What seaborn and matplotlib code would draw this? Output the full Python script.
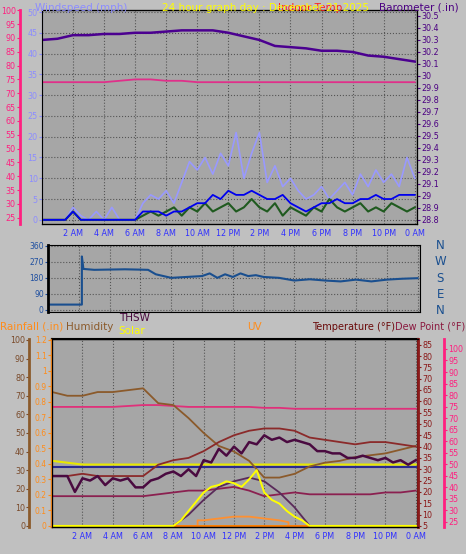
import numpy as np
import pandas as pd
import matplotlib
matplotlib.use('Agg')
import matplotlib.pyplot as plt
import seaborn as sns

# ---- top panel data ----
hours = list(range(25))
barometer = [30.30, 30.31, 30.34, 30.34, 30.35, 30.35, 30.36, 30.36, 30.37, 30.38, 30.38, 30.38, 30.36,
             30.33, 30.30, 30.25, 30.24, 30.23, 30.21, 30.21, 30.20, 30.17, 30.16, 30.14, 30.12]
top_pink = [74, 74, 74, 74, 74, 74.5, 75, 75, 74.5, 74.5, 74, 74, 74, 74, 74, 74, 74, 74, 74, 74, 74, 74, 74, 74, 74]

half = [i / 2 for i in range(49)]
wind_gust = [0, 0, 0, 0, 3, 1, 0, 2, 0, 3, 0, 0, 0, 4, 6, 5, 7, 4, 9, 14, 12, 15, 11, 16, 13, 21, 10, 16,
             21, 9, 13, 8, 10, 7, 5, 6, 8, 5, 7, 9, 6, 11, 8, 12, 9, 11, 8, 15, 10]
wind_avg = [0, 0, 0, 0, 2, 0, 0, 0, 0, 0, 0, 0, 0, 2, 2, 2, 1, 2, 2, 3, 4, 4, 6, 5, 7, 6, 6, 7,
            6, 5, 5, 6, 4, 3, 2, 3, 4, 4, 5, 4, 4, 5, 5, 6, 5, 5, 6, 6, 6]
wind_speed = [0, 0, 0, 0, 2, 0, 0, 0, 0, 0, 0, 0, 0, 1, 2, 1, 2, 3, 1, 3, 2, 4, 2, 3, 4, 2, 3, 5,
              3, 2, 4, 1, 3, 2, 1, 3, 2, 5, 3, 2, 3, 4, 2, 3, 2, 4, 3, 2, 3]

# ---- wind direction ----
dir_t = [0, 2.2, 2.2, 2.3, 3, 5, 6.5, 7, 7.5, 8, 9, 10, 10.5, 11, 11.5, 12, 12.5, 13, 13.5, 14, 15, 16,
         17, 18, 19, 20, 21, 22, 23, 24]
dir_v = [30, 30, 300, 230, 225, 228, 225, 200, 190, 180, 185, 190, 205, 180, 200, 185, 205, 190, 195, 185,
         180, 165, 172, 165, 160, 170, 160, 170, 175, 178]

# ---- bottom panel ----
humidity = [72, 70, 70, 72, 72, 73, 74, 66, 65, 58, 50, 43, 40, 35, 26, 26, 28, 32, 34, 35, 37, 38, 39, 41, 43]
dew_pink = [64, 64, 64, 64, 64, 64.5, 65, 65, 64.5, 64, 64, 64, 64, 64, 63.5, 63.5, 63, 63, 63, 63, 63, 63, 63, 63, 63]
temperature = [27, 27, 28, 27, 27, 27, 27, 32, 34, 35, 38, 42, 45, 47, 48, 48, 47, 44, 43, 42, 41, 42, 42, 41, 40]
thsw = [27, 27, 27, 20, 26, 25, 27, 23, 26, 25, 26, 22, 22, 25, 26, 28, 29, 27, 30, 27, 34, 33, 39, 36,
        40, 37, 42, 41, 45, 43, 44, 42, 43, 42, 41, 38, 38, 37, 37, 35, 35, 36, 35, 34, 35, 33, 34, 32, 34]
low_mag = [16, 16, 16, 16, 16, 16, 16, 17, 18, 19, 19, 20, 21, 19, 16, 17, 18, 17, 17, 17, 17, 17, 18, 18, 19]
solar_t = [0, 8, 8.5, 9, 9.5, 10, 10.5, 11, 11.5, 12, 12.5, 13, 13.5, 14, 14.5, 15, 15.5, 16, 16.5, 17, 24]
solar_v = [0, 0, 3, 8, 13, 18, 21, 22, 24, 23, 21, 25, 30, 18, 14, 12, 8, 5, 3, 0, 0]
theo_t = [8, 9, 10, 11, 12, 13, 14, 15, 16, 17]
theo_v = [0, 6, 14, 21, 24, 26, 24, 18, 10, 0]
uv_t = [8, 9.6, 9.6, 10, 11, 12, 13, 14, 15, 15.6, 15.6, 17]
uv_v = [0, 0, 3, 3, 4, 5, 5, 4, 3, 2, 0, 0]
solar_line = [35, 34] + [33] * 23
navy_line = [31.5] * 25

BG = '#c0c0c0'
xt = [2, 4, 6, 8, 10, 12, 14, 16, 18, 20, 22, 24]
xl = ['2 AM', '4 AM', '6 AM', '8 AM', '10 AM', '12 PM', '2 PM', '4 PM', '6 PM', '8 PM', '10 PM', '0 AM']
FS = 5.8
PX = 0.72  # points per pixel at dpi 100

fig = plt.figure(figsize=(4.66, 5.54), dpi=100, facecolor=BG)


def style(ax):
    ax.set_facecolor('#a6a6a6')
    ax.grid(True, color='#555555', linestyle=':', linewidth=0.8)
    ax.set_xlim(0, 24.15)
    ax.set_xticks(xt)
    ax.set_xticklabels(xl, color='#3030ff', fontsize=FS)
    ax.tick_params(axis='x', length=0)
    ax.set_xlabel('')
    ax.set_ylabel('')


def ln(ax, x, y, c, lw=1.3):
    sns.lineplot(x=x, y=y, ax=ax, color=c, linewidth=lw, estimator=None, sort=False)
    ax.set_ylabel('')


def yax(ax, color, lab=FS):
    ax.tick_params(axis='y', colors=color, labelsize=lab, length=2, pad=1)


# top panel
ax1 = fig.add_axes([0.09, 0.596, 0.805, 0.386])
style(ax1)
ax1.set_ylim(-0.96, 50.5)
ax1.set_yticks(range(0, 51, 5))
yax(ax1, '#8c8cff')
ax1.spines['left'].set_color('#8c8cff')
ln(ax1, half, wind_gust, '#9999ff', 1.2)
ln(ax1, half, wind_speed, '#1f5a1f', 1.5)
ln(ax1, half, wind_avg, '#0000ee', 1.3)

ax1p = ax1.twinx()
ax1p.yaxis.set_ticks_position('left')
ax1p.spines['left'].set_position(('outward', 22 * PX))
ax1p.spines['left'].set_color('#ff2080')
ax1p.spines['left'].set_linewidth(2)
ax1p.set_ylim(22.8, 100.1)
ax1p.set_yticks(range(25, 101, 5))
yax(ax1p, '#ff2080')
ln(ax1p, hours, top_pink, '#e0308a', 1.3)

ax1b = ax1.twinx()
ax1b.set_ylim(28.767, 30.55)
ax1b.set_yticks(np.arange(28.8, 30.51, 0.1))
ax1b.set_yticklabels(['28.8', '28.9', '29', '29.1', '29.2', '29.3', '29.4', '29.5', '29.6', '29.7',
                      '29.8', '29.9', '30', '30.1', '30.2', '30.3', '30.4', '30.5'])
yax(ax1b, '#4b0082')
ln(ax1b, hours, barometer, '#4b0090', 1.8)

fig.text(0.075, 0.995, 'Windspeed (mph)', color='#8c8cff', fontsize=7.5, ha='left', va='top')
fig.text(0.665, 0.995, 'Indoor Temp', color='#ff2020', fontsize=7.5, ha='center', va='top')
fig.text(0.57, 0.995, '24 hour graph day : December 21 2025', color='#ffff00', fontsize=7.5, ha='center', va='top')
fig.text(0.985, 0.995, 'Barometer (.in)', color='#4b0082', fontsize=7.5, ha='right', va='top')

# wind direction panel
ax2 = fig.add_axes([0.103, 0.437, 0.798, 0.121])
style(ax2)
ax2.set_xticklabels([])
ax2.set_ylim(-11, 365)
ax2.set_yticks([0, 90, 180, 270, 360])
yax(ax2, '#2050a0', FS - 0.3)
ax2.spines['left'].set_linewidth(2)
ln(ax2, dir_t, dir_v, '#1a4f8f', 1.5)
for i, s in enumerate(['N', 'W', 'S', 'E', 'N']):
    fig.text(0.945, 0.557 - i * 0.0295, s, color='#1a4f8f', fontsize=8.5, ha='center', va='center')

# bottom panel
ax3 = fig.add_axes([0.112, 0.049, 0.785, 0.339])
style(ax3)
ax3.set_ylim(-0.5, 100.5)
ax3.set_yticks([])
for sp in ax3.spines.values():
    sp.set_color('black')
    sp.set_linewidth(1.5)

axh = ax3.twinx()
axh.yaxis.set_ticks_position('left')
axh.spines['left'].set_position(('outward', 23 * PX))
axh.spines['left'].set_color('#8b5a2b')
axh.spines['left'].set_linewidth(2)
axh.set_ylim(-0.5, 100.5)
axh.set_yticks(range(0, 101, 10))
yax(axh, '#7a4a2a')
ln(axh, hours, solar_line, '#e8e800', 1.5)
ln(axh, hours, navy_line, '#2a2a90', 1.5)
ln(axh, [0, 24], [0, 0], '#e0c000', 1.8)
ln(axh, hours, low_mag, '#8b2050', 1.3)
ln(axh, hours, dew_pink, '#e0307a', 1.3)
ln(axh, hours, humidity, '#8b5a2b', 1.3)
ln(axh, theo_t, theo_v, '#5a2a5a', 1.3)
ln(axh, uv_t, uv_v, '#ff9030', 1.3)
ln(axh, [8, 17], [0, 0], '#ff7a00', 2)
ln(axh, solar_t, solar_v, '#ffff00', 1.4)

axr = ax3.twinx()
axr.yaxis.set_ticks_position('left')
axr.spines['left'].set_position(('outward', 1))
axr.spines['left'].set_color('#ff8c1a')
axr.spines['left'].set_linewidth(1)
axr.set_ylim(-0.006, 1.206)
axr.set_yticks(np.arange(0, 1.21, 0.1))
axr.set_yticklabels(['0', '0.1', '0.2', '0.3', '0.4', '0.5', '0.6', '0.7', '0.8', '0.9', '1', '1.1', '1.2'])
yax(axr, '#ff8c1a', FS - 0.3)

axt = ax3.twinx()
axt.set_ylim(4.56, 87.5)
axt.set_yticks(range(5, 86, 5))
axt.spines['right'].set_color('#8b1a1a')
axt.spines['right'].set_linewidth(2)
yax(axt, '#8b1a1a')
ln(axt, hours, temperature, '#8b2a2a', 1.3)
ln(axt, half, thsw, '#4a0a40', 1.8)

axd = ax3.twinx()
axd.spines['right'].set_position(('outward', 26 * PX))
axd.spines['right'].set_color('#ff2080')
axd.spines['right'].set_linewidth(2)
axd.set_ylim(22.8, 104.3)
axd.set_yticks(range(25, 101, 5))
yax(axd, '#ff2080')

fig.text(0.0, 0.41, 'Rainfall (.in)', color='#ff8c1a', fontsize=7.5, ha='left', va='center')
fig.text(0.142, 0.41, 'Humidity', color='#8b5a2b', fontsize=7.5, ha='left', va='center')
fig.text(0.255, 0.426, 'THSW', color='#4a0a40', fontsize=7.5, ha='left', va='center')
fig.text(0.255, 0.403, 'Solar', color='#ffff00', fontsize=7.5, ha='left', va='center')
fig.text(0.53, 0.41, 'UV', color='#ff8c1a', fontsize=7.5, ha='left', va='center')
fig.text(0.67, 0.41, 'Temperature (°F)', color='#6a0a0a', fontsize=7, ha='left', va='center')
fig.text(0.847, 0.41, 'Dew Point (°F)', color='#8b1a40', fontsize=7, ha='left', va='center')

fig.savefig('out.png', dpi=100, facecolor=BG)
